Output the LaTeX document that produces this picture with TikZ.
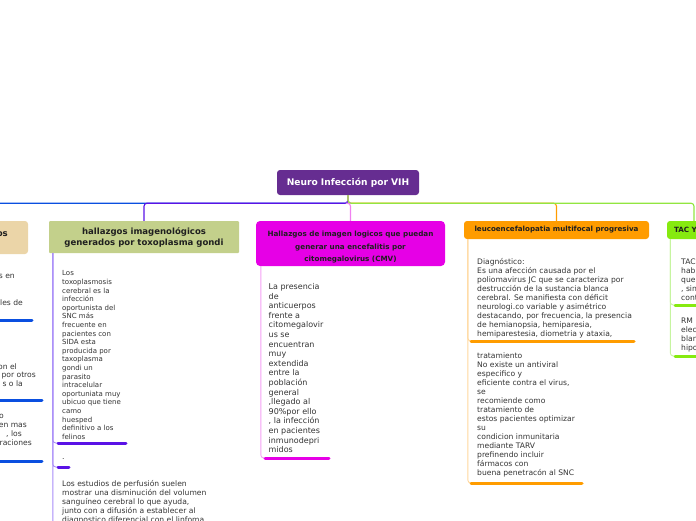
\documentclass[tikz,border=0pt]{standalone}
\usepackage{fontspec}
\setmainfont{DejaVu Sans}
\definecolor{rootc}{HTML}{662D91}
\definecolor{txt}{HTML}{333333}
\definecolor{c0}{HTML}{0A4FE0}
\definecolor{c1}{HTML}{5A12E6}
\definecolor{c1l}{HTML}{A88CF8}
\definecolor{c2}{HTML}{E600E6}
\definecolor{c2l}{HTML}{F4A0F4}
\definecolor{c2c}{HTML}{F080F0}
\definecolor{c3}{HTML}{FF9C00}
\definecolor{c3l}{HTML}{FFD79C}
\definecolor{c4}{HTML}{86EA10}
\definecolor{c4c}{HTML}{92E640}
\definecolor{c4l}{HTML}{C6F4A0}
\definecolor{beige}{HTML}{EBD5A8}
\definecolor{olive}{HTML}{C3D08B}
\begin{document}
\begin{tikzpicture}[x=1pt,y=-1pt,
  box/.style={inner sep=0pt, align=center, text=black!88, rounded corners=3pt},
  conn/.style={line width=1.1pt, rounded corners=3pt},
  cline/.style={line width=0.9pt, rounded corners=3pt},
  uline/.style={line width=3pt, line cap=round},
  body/.style={anchor=north west, align=left, inner sep=0pt, text=txt},
  frag/.style={anchor=base east, inner sep=0pt, text=txt, font=\fontsize{7.6}{9}\selectfont},
]
\useasboundingbox (0,0) rectangle (696,520);
\clip (0,0) rectangle (696,520);

% main nodes
\node[box, fill=rootc, text=white, minimum width=142, minimum height=25,
      font=\bfseries\fontsize{9.1}{11}\selectfont] (root) at (348,182.5) {Neuro Infección por VIH};
\node[box, fill=beige, minimum width=176, minimum height=33] (n0) at (-60,237.5) {};
\node[anchor=base east, inner sep=0pt, text=black!88, font=\bfseries\fontsize{8.6}{11}\selectfont] (n0t) at (8,236) {os};
\node[box, fill=olive, rounded corners=1pt, minimum width=190, minimum height=32,
      font=\bfseries\fontsize{8.55}{11}\selectfont] (toxo) at (144,237) {hallazgos imagenológicos\\generados por toxoplasma gondi};
\node[box, fill=c2, rounded corners=4pt, minimum width=189, minimum height=45,
      font=\bfseries\fontsize{7.2}{12.5}\selectfont] (cmv) at (350.5,243.5) {\rule{0pt}{13.5pt}Hallazgos de imagen logicos que puedan\\generar una encefalitis por\\citomegalovirus (CMV)};
\node[box, fill=c3, minimum width=185, minimum height=18,
      font=\bfseries\fontsize{7.1}{9}\selectfont] (leuco) at (556.5,230) {leucoencefalopatia multifocal progresiva};
\node[box, fill=c4, minimum width=54, minimum height=18, text width=40, align=left, inner xsep=7pt,
      font=\bfseries\fontsize{7.2}{9}\selectfont] (tac) at (694,230) {TAC Y};

% connectors from root
\draw[conn, c0] (root.south) -- ++(0,8) -| (n0.north);
\draw[conn, c1] (root.south) -- ++(0,8) -| (toxo.north);
\draw[conn, c3] (root.south) -- ++(0,8) -| (leuco.north);
\draw[conn, c2c] (root.south) -- ++(0,8) -| (cmv.north);
\draw[conn, c4c] (root.south) -- ++(0,8) -| (tac.north);

% ---- left (cut) column
\node[frag] (f1) at (15,278) {s en};
\node[frag] (f2) at (23,305) {ales de};
\node[frag] (f3) at (17,369) {on el};
\node[frag] (f4) at (36,377.5) {por otros};
\node[frag] (f5) at (23,386) {s o la};
\node[frag] (f6) at (4,418) {o};
\node[frag] (f7) at (27,427) {en mas};
\node[frag] (f8) at (22,436) {, los};
\node[frag] (f9) at (32,445) {raciones};
\coordinate (l1a) at (-20,320); \coordinate (l1b) at (32,320);
\coordinate (l2a) at (-20,400); \coordinate (l2b) at (42,400);
\coordinate (l3a) at (-20,461); \coordinate (l3b) at (42,461);
\draw[uline, c0] (l1a) -- (l1b);
\draw[uline, c0] (l2a) -- (l2b);
\draw[uline, c0] (l3a) -- (l3b);

% ---- toxoplasma column
\node[body, font=\fontsize{7}{8.6}\selectfont] (t1) at (62,270.5) {Los\\toxoplasmosis\\cerebral es la\\infección\\oportunista del\\SNC más\\frecuente en\\pacientes con\\SIDA esta\\producida por\\taxoplasma\\gondi un\\parasito\\intracelular\\oportuniata muy\\ubicuo que tiene\\camo\\huesped\\definitivo a los\\felinos};
\node[anchor=base west, inner sep=0pt, text=txt, font=\fontsize{7.6}{9}\selectfont] (t2) at (62,459) {.};
\node[body, font=\fontsize{7.6}{9}\selectfont] (t3) at (62,480.5) {Los estudios de perfusión suelen\\mostrar una disminución del volumen\\sanguíneo cerebral lo que ayuda,\\junto con a difusión a establecer al\\diagnostico diferencial con el linfoma};
\coordinate (ts) at ([xshift=4pt]toxo.south west);
\coordinate (t1a) at (58,443); \coordinate (t1b) at (126,443);
\coordinate (t2a) at (58,467); \coordinate (t2b) at (69,467);
\coordinate (t3a) at (58,560);
\draw[cline, c1l] (ts) |- (t1a);
\draw[cline, c1l] (ts) |- (t2a);
\draw[cline, c1l] (ts) |- (t3a);
\draw[uline, c1] (t1a) -- (t1b);
\draw[uline, c1] (t2a) -- (t2b);

% ---- CMV column
\node[body, font=\fontsize{8}{9.6}\selectfont] (m1) at (268.5,283.3) {La presencia\\de\\anticuerpos\\frente a\\citomegalovir\\us se\\encuentran\\muy\\extendida\\entre la\\población\\general\\,llegado al\\90\%por ello\\, la infección\\en pacientes\\inmunodepri\\midos};
\coordinate (ms) at ([xshift=5pt]cmv.south west);
\coordinate (m1a) at (265,458); \coordinate (m1b) at (329,458);
\draw[cline, c2l] (ms) |- (m1a);
\draw[uline, c2] (m1a) -- (m1b);

% ---- leucoencefalopatia column
\node[body, font=\fontsize{7.6}{9}\selectfont] (p1) at (477,258) {Diagnóstico:\\Es una afección causada por el\\poliomavirus JC que se caracteriza por\\destrucción de la sustancia blanca\\cerebral. Se manifiesta con déficit\\neurologi.co variable y asimétrico\\destacando, por frecuencia, la presencia\\de hemianopsia, hemiparesia,\\hemiparestesia, diometria y ataxia,};
\node[body, font=\fontsize{7.6}{9}\selectfont] (p2) at (477,353) {tratamiento\\No existe un antiviral\\especifico y\\eficiente contra el virus,\\se\\recomiende como\\tratamiento de\\estos pacientes optimizar\\su\\condicion inmunitaria\\mediante TARV\\prefinendo incluir\\fármacos con\\buena penetracón al SNC};
\coordinate (ps) at ([xshift=4pt]leuco.south west);
\coordinate (p1a) at (471,341); \coordinate (p1b) at (634,341);
\coordinate (p2a) at (471,483); \coordinate (p2b) at (582,483);
\draw[cline, c3l] (ps) |- (p1a);
\draw[cline, c3l] (ps) |- (p2a);
\draw[uline, c3] (p1a) -- (p1b);
\draw[uline, c3] (p2a) -- (p2b);

% ---- TAC column
\node[body, font=\fontsize{7.6}{9}\selectfont] (a1) at (681,258.5) {TAC\\habi\\que\\, sin\\cont};
\node[body, font=\fontsize{7.6}{9}\selectfont] (a2) at (681,317.5) {RM\\elec\\blan\\hipo};
\coordinate (as) at ([xshift=3.5pt]tac.south west);
\coordinate (a1a) at (675,305); \coordinate (a1b) at (710,305);
\coordinate (a2a) at (675,356); \coordinate (a2b) at (710,356);
\draw[cline, c4l] (as) |- (a1a);
\draw[cline, c4l] (as) |- (a2a);
\draw[uline, c4] (a1a) -- (a1b);
\draw[uline, c4] (a2a) -- (a2b);
\end{tikzpicture}
\end{document}
